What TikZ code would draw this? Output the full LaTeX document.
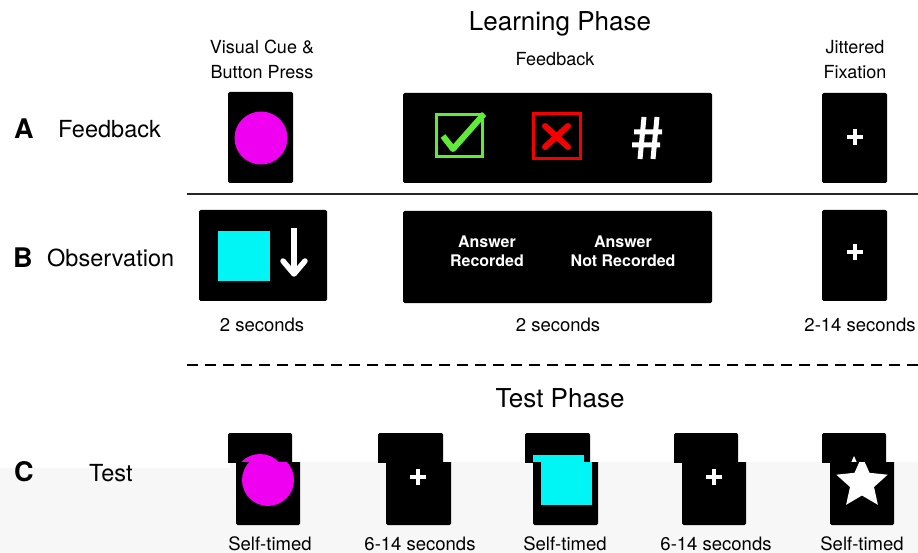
\documentclass[tikz,border=0pt]{standalone}
\usepackage{fontspec}
\setmainfont{TeX Gyre Heros}

\definecolor{okgreen}{RGB}{95,235,55}
\definecolor{nored}{RGB}{245,0,0}
\definecolor{cuemagenta}{RGB}{240,0,240}
\definecolor{cuecyan}{RGB}{0,245,245}

\begin{document}
\begin{tikzpicture}[x=1pt, y=-1pt,
        screen/.style={fill=black, rounded corners=1.5pt},
        phase/.style={font=\fontsize{26}{28}\selectfont, inner sep=0, anchor=base},
        stage/.style={font=\fontsize{18}{25}\selectfont, align=center, inner sep=0},
        timing/.style={font=\fontsize{18.5}{21}\selectfont, inner sep=0, anchor=base},
        rowname/.style={font=\fontsize{23.5}{26}\selectfont, inner sep=0, anchor=base west},
        letter/.style={font=\fontsize{27}{30}\selectfont\bfseries, inner sep=0, anchor=base west},
        answer/.style={white, font=\fontsize{16}{19}\selectfont\bfseries, align=center, inner sep=0},
        fix/.style={white, line width=3.5pt}]
    \useasboundingbox (0,0) rectangle (918,553);

    % headings
    \node[phase] (learn) at (560,31) {Learning Phase};
    \node[stage] (cue) at (262,59) {Visual Cue \&\\Button Press};
    \node[stage] (fb) at (555,59) {Feedback};
    \node[stage] (jit) at (855,60) {Jittered\\Fixation};

    % row A
    \node[letter] (A) at (14,139) {A};
    \node[rowname] (Aname) at (58,138) {Feedback};
    \fill[screen] (228,92) rectangle (293,183);
    \fill[cuemagenta] (261,138) circle (26.5);
    \fill[screen] (403,93) rectangle (712,183);
    \draw[okgreen, line width=3pt] (436,115) rectangle (482,157);
    \draw[okgreen, line width=6pt, line join=round] (443,136) -- (453,149) -- (484,114);
    \draw[nored, line width=3pt] (533,114) rectangle (580,159);
    \draw[nored, line width=6pt, line cap=round] (545,126) -- (568,147) (568,126) -- (545,147);
    \draw[white, line width=5pt] (644,117) -- (640,159) (657,117) -- (653,159)
        (634,132) -- (662,132) (632,145) -- (660,145);
    \fill[screen] (822,93) rectangle (887,183);
    \draw[fix] (847,137) -- (863,137) (855,129) -- (855,145);

    \draw[line width=2pt, black!85] (187,194) -- (918,194);

    % row B
    \node[letter] (B) at (13,268) {B};
    \node[rowname] (Bname) at (47,267) {Observation};
    \fill[screen] (199,210) rectangle (327,301);
    \fill[cuecyan] (218,231) rectangle (270,281);
    \draw[white, line width=5.5pt] (294,228) -- (294,272);
    \draw[white, line width=5.5pt, line join=round, line cap=round] (283,261) -- (294,274) -- (305,261);
    \fill[screen] (403,211) rectangle (712,303);
    \node[answer] (rec) at (487,251) {Answer\\Recorded};
    \node[answer] (norec) at (623,251) {Answer\\Not Recorded};
    \fill[screen] (822,210) rectangle (887,301);
    \draw[fix] (847,252) -- (863,252) (855,244) -- (855,260);

    \node[timing] (t1) at (262,331) {2 seconds};
    \node[timing] (t2) at (558,331) {2 seconds};
    \node[timing] (t3) at (860,331) {2-14 seconds};

    \draw[line width=2.5pt, dash pattern=on 11pt off 7pt] (187,365) -- (918,365);

    % row C
    \node[phase] (testph) at (560,407) {Test Phase};
    \fill[black!3] (0,468) rectangle (230,553) (230,462) rectangle (918,553);
    \node[letter] (C) at (14,481) {C};
    \node[rowname] (Cname) at (89,481) {Test};
    \foreach \dx/\top/\bot in {0/420/462, 8/462/540}{
        \begin{scope}
            \clip (180,\top) rectangle (918,\bot);
            \begin{scope}[xshift=\dx]
                \fill[screen] (228,433) rectangle (292,525);
                \fill[cuemagenta] (260,480) circle (26);
                \fill[screen] (378,433) rectangle (443,525);
                \draw[fix] (402,477) -- (418,477) (410,469) -- (410,485);
                \fill[screen] (525,433) rectangle (590,525);
                \fill[cuecyan] (533,455) rectangle (584,505);
                \fill[screen] (674,433) rectangle (738,525);
                \draw[fix] (698,477) -- (714,477) (706,469) -- (706,485);
                \fill[screen] (822,433) rectangle (886,525);
                \fill[white, line join=round] (854,456) -- (861.5,472.8) -- (879.7,474.7)
                    -- (866,487) -- (869.9,504.8) -- (854,495.5) -- (838.1,504.8)
                    -- (842,487) -- (828.3,474.7) -- (846.5,472.8) -- cycle;
            \end{scope}
        \end{scope}
    }
    \node[timing] (s1) at (270,550) {Self-timed};
    \node[timing] (s2) at (420,550) {6-14 seconds};
    \node[timing] (s3) at (565,550) {Self-timed};
    \node[timing] (s4) at (716,550) {6-14 seconds};
    \node[timing] (s5) at (862,550) {Self-timed};
\end{tikzpicture}
\end{document}
